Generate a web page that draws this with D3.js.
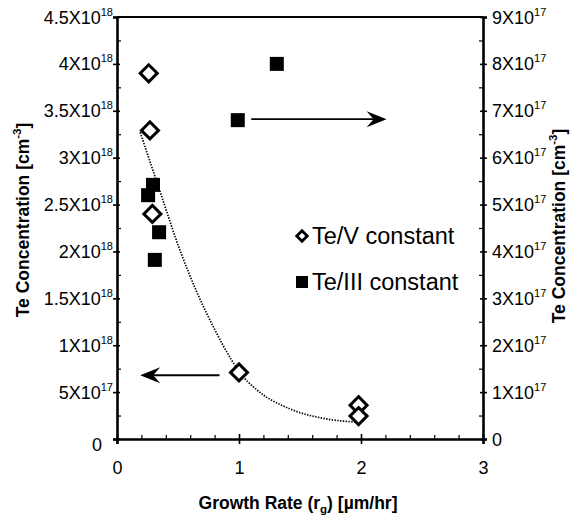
<!DOCTYPE html>
<html>
<head>
<meta charset="utf-8">
<script src="https://cdn.jsdelivr.net/npm/d3@7/dist/d3.min.js"></script>
<style>
  html, body { margin: 0; padding: 0; background: #fff; }
  svg { display: block; }
  text { font-family: "Liberation Sans", Arial, sans-serif; fill: #000; }
</style>
</head>
<body>
<script>
// Growth rate (µm/hr) versus Te concentration (cm^-3)
const teVRate  = [0.26, 0.27, 0.29, 1.0, 1.98, 1.98];
const teVConc  = [3.9e18, 3.29e18, 2.4e18, 0.71e18, 0.36e18, 0.245e18];   // left axis

const teIIIRate = [1.31, 0.99, 0.295, 0.255, 0.345, 0.31];
const teIIIConc = [8.0e17, 6.8e17, 5.42e17, 5.2e17, 4.41e17, 3.82e17];    // right axis

// dotted trend line (left axis)
const trendRate = [0.19, 0.35, 0.52, 0.65, 0.8, 0.94, 1.0, 1.15, 1.42, 1.69, 1.97];
const trendConc = [3.27e18, 2.65e18, 2.0e18, 1.58e18, 1.17e18, 0.84e18, 0.72e18, 0.52e18, 0.32e18, 0.22e18, 0.18e18];

const xTicks = [0, 1, 2, 3];
const xMinor = [0.2, 0.4, 0.6, 0.8, 1.2, 1.4, 1.6, 1.8, 2.2, 2.4, 2.6, 2.8];
const leftTicks = [0, 5e17, 1e18, 1.5e18, 2e18, 2.5e18, 3e18, 3.5e18, 4e18, 4.5e18];
const leftLabels = ["0", "5X10|17", "1X10|18", "1.5X10|18", "2X10|18", "2.5X10|18", "3X10|18", "3.5X10|18", "4X10|18", "4.5X10|18"];
const leftMinor = [2.5e17, 7.5e17, 1.25e18, 1.75e18, 2.25e18, 2.75e18, 3.25e18, 3.75e18, 4.25e18];
const rightTicks = [0, 1e17, 2e17, 3e17, 4e17, 5e17, 6e17, 7e17, 8e17, 9e17];
const rightLabels = ["0", "1X10|17", "2X10|17", "3X10|17", "4X10|17", "5X10|17", "6X10|17", "7X10|17", "8X10|17", "9X10|17"];
const rightMinor = [0.5e17, 1.5e17, 2.5e17, 3.5e17, 4.5e17, 5.5e17, 6.5e17, 7.5e17, 8.5e17];

const legendNames = ["Te/V constant", "Te/III constant"];

const W = 584, H = 518;
const svg = d3.select("body").append("svg").attr("width", W).attr("height", H);

const x = d3.scaleLinear().domain([0, 3]).range([117, 483]);
const yL = d3.scaleLinear().domain([0, 4.5e18]).range([439, 17]);
const yR = d3.scaleLinear().domain([0, 9e17]).range([439, 17]);

// frame top edge
svg.append("line").attr("x1", x(0)).attr("x2", x(3)).attr("y1", yL(4.5e18)).attr("y2", yL(4.5e18))
  .attr("stroke", "#000").attr("stroke-width", 2);

function styleAxis(g) {
  g.select(".domain").attr("stroke", "#000").attr("stroke-width", 2.6);
  g.selectAll(".tick line").attr("stroke", "#000").attr("stroke-width", 1.6);
}

function sciLabel(sel, str) {
  const parts = str.split("|");
  sel.text(null);
  sel.append("tspan").text(parts[0]);
  if (parts[1]) {
    sel.append("tspan").attr("dy", -8).attr("font-size", 11).text(parts[1]);
  }
}

// x axis
const gx = svg.append("g").attr("transform", `translate(0,${yL(0)})`)
  .call(d3.axisBottom(x).tickValues(xTicks).tickSize(5).tickFormat(""));
gx.selectAll(".tick line").attr("y1", -5);
gx.selectAll(".tick").append("text").attr("y", 35).attr("text-anchor", "middle")
  .attr("font-size", 18).text(d => d);
styleAxis(gx);
const gxm = svg.append("g").attr("transform", `translate(0,${yL(0)})`)
  .call(d3.axisBottom(x).tickValues(xMinor).tickSize(-4).tickFormat(""));
gxm.select(".domain").remove();
gxm.selectAll(".tick line").attr("stroke", "#000").attr("stroke-width", 1.2);

// left axis
const gl = svg.append("g").attr("transform", `translate(${x(0)},0)`)
  .call(d3.axisLeft(yL).tickValues(leftTicks).tickSize(4).tickFormat(""));
gl.selectAll(".tick line").attr("x1", 3);
gl.selectAll(".tick").append("text")
  .attr("x", (d, i) => i === 0 ? -15 : -4)
  .attr("dy", (d, i) => i === 0 ? 11 : 6)
  .attr("text-anchor", "end").attr("font-size", 18)
  .each(function (d, i) { sciLabel(d3.select(this), leftLabels[i]); });
styleAxis(gl);
const glm = svg.append("g").attr("transform", `translate(${x(0)},0)`)
  .call(d3.axisLeft(yL).tickValues(leftMinor).tickSize(-4).tickFormat(""));
glm.select(".domain").remove();
glm.selectAll(".tick line").attr("stroke", "#000").attr("stroke-width", 1.2);

// right axis
const gr = svg.append("g").attr("transform", `translate(${x(3)},0)`)
  .call(d3.axisRight(yR).tickValues(rightTicks).tickSize(4).tickFormat(""));
gr.selectAll(".tick line").attr("x1", -3);
gr.selectAll(".tick").append("text").attr("x", 9).attr("dy", 6)
  .attr("text-anchor", "start").attr("font-size", 18)
  .each(function (d, i) { sciLabel(d3.select(this), rightLabels[i]); });
styleAxis(gr);
const grm = svg.append("g").attr("transform", `translate(${x(3)},0)`)
  .call(d3.axisRight(yR).tickValues(rightMinor).tickSize(-4).tickFormat(""));
grm.select(".domain").remove();
grm.selectAll(".tick line").attr("stroke", "#000").attr("stroke-width", 1.2);

// axis titles
function axisTitle(tx, ty, rot) {
  const t = svg.append("text").attr("transform", `translate(${tx},${ty}) rotate(${rot})`)
    .attr("text-anchor", "middle").attr("font-size", 17.5).attr("font-weight", "bold");
  t.append("tspan").text("Te Concentration [cm");
  t.append("tspan").attr("dy", -8).attr("font-size", 11.5).text("-3");
  t.append("tspan").attr("dy", 8).text("]");
}
axisTitle(29, 220, -90);
axisTitle(565, 226, -90);

const xt = svg.append("text").attr("x", 298).attr("y", 509).attr("text-anchor", "middle")
  .attr("font-size", 17.5).attr("font-weight", "bold");
xt.append("tspan").text("Growth Rate (r");
xt.append("tspan").attr("dy", 4).attr("font-size", 11.5).text("g");
xt.append("tspan").attr("dy", -4).text(") [\u00b5m/hr]");

// trend line
const trend = trendRate.map((r, i) => [r, trendConc[i]]);
svg.append("path").datum(trend)
  .attr("d", d3.line().x(d => x(d[0])).y(d => yL(d[1])).curve(d3.curveMonotoneX))
  .attr("fill", "none").attr("stroke", "#000").attr("stroke-width", 1.7)
  .attr("stroke-dasharray", "1.4,1.4");

// markers
const diamond = d3.symbol().type(d3.symbolSquare).size(145);
svg.selectAll(".tev").data(teVRate.map((r, i) => [r, teVConc[i]])).join("path")
  .attr("d", diamond)
  .attr("transform", d => `translate(${x(d[0])},${yL(d[1])}) rotate(45)`)
  .attr("fill", "#fff").attr("stroke", "#000").attr("stroke-width", 3);

svg.selectAll(".teiii").data(teIIIRate.map((r, i) => [r, teIIIConc[i]])).join("rect")
  .attr("x", d => x(d[0]) - 7).attr("y", d => yR(d[1]) - 7)
  .attr("width", 14).attr("height", 14).attr("fill", "#000");

// direction arrows
function arrow(x1, x2, yy) {
  const dir = Math.sign(x2 - x1);
  svg.append("line").attr("x1", x1).attr("x2", x2 - dir * 10).attr("y1", yy).attr("y2", yy)
    .attr("stroke", "#000").attr("stroke-width", 1.8);
  svg.append("path")
    .attr("d", `M${x2},${yy} L${x2 - dir * 20},${yy - 8} L${x2 - dir * 13},${yy} L${x2 - dir * 20},${yy + 8} Z`)
    .attr("fill", "#000");
}
arrow(x(1.1), x(2.21), yR(6.8e17) - 1);
arrow(x(0.84), x(0.19), yL(0.68e18));

// legend
const lg = svg.append("g");
lg.append("path").attr("d", d3.symbol().type(d3.symbolSquare).size(55))
  .attr("transform", "translate(302,236) rotate(45)")
  .attr("fill", "#fff").attr("stroke", "#000").attr("stroke-width", 2.8);
lg.append("rect").attr("x", 296).attr("y", 276).attr("width", 12).attr("height", 12).attr("fill", "#000");
lg.append("text").attr("x", 312).attr("y", 244).attr("font-size", 23.5).text(legendNames[0]);
lg.append("text").attr("x", 312).attr("y", 290).attr("font-size", 23.5).text(legendNames[1]);
</script>
</body>
</html>
